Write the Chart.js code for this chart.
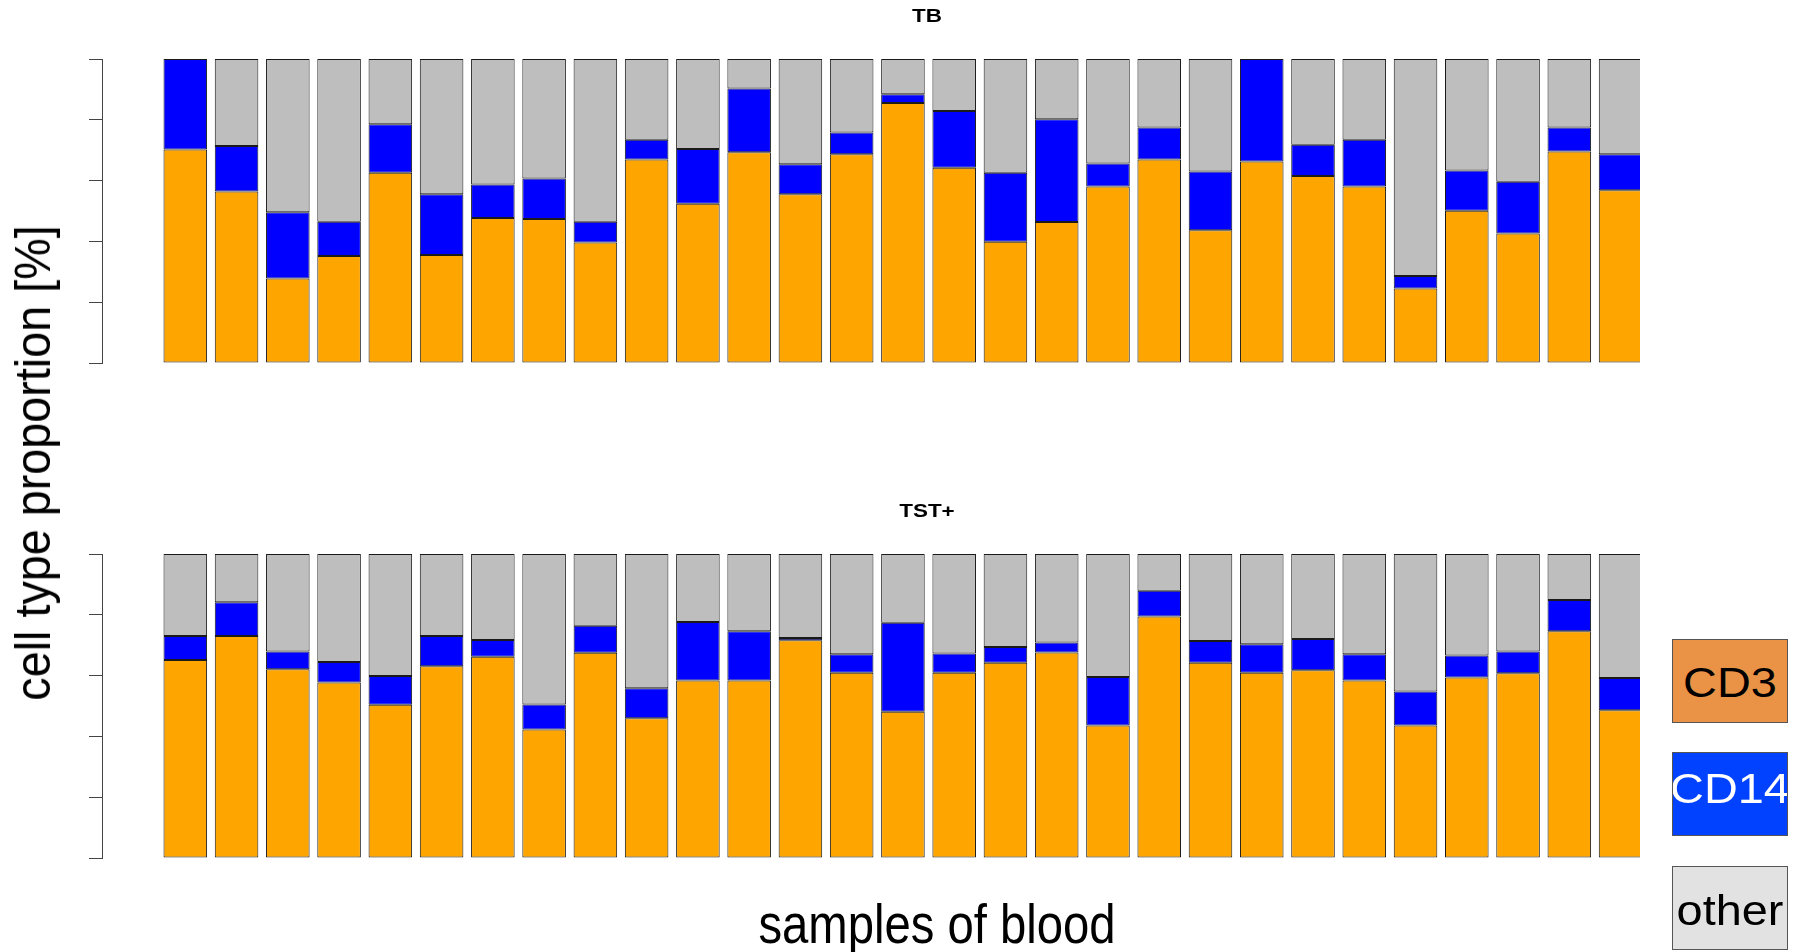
<!DOCTYPE html>
<html>

<head>
    <meta charset='utf-8'>
    <title>cell type proportion</title>
    <script src="https://cdn.jsdelivr.net/npm/chart.js"></script>
    <style>
        body { margin: 0; background: #fff; font-family: "Liberation Sans", Arial, sans-serif; }
        #page { position: relative; width: 1806px; height: 952px; overflow: hidden; }
        .plot { position: absolute; left: 0; top: 0; width: 1806px; height: 952px; }
        .txt { position: absolute; white-space: nowrap; line-height: 1; color: #000; }
        .title { font-weight: bold; font-size: 18.7px; transform: translateX(-50%) scaleX(1.2); }
        .box { position: absolute; left: 1672px; width: 114px; height: 82px; border: 1px solid #555; overflow: hidden; }
        .box span { position: absolute; left: 57px; font-size: 43px; line-height: 1; white-space: nowrap; transform: translateX(-50%) scaleX(1.09); }
    </style>
</head>

<body>
    <div id="page">
        <div class="plot"><canvas id="canvasTB"></canvas></div>
        <div class="plot"><canvas id="canvasTST"></canvas></div>

        <div class="txt title" style="left:926.5px; top:6.9px">TB</div>
        <div class="txt title" style="left:926.5px; top:501.9px">TST+</div>

        <div class="txt" style="left:33px; top:462.5px; font-size:50px; transform: translate(-50%,-50%) rotate(-90deg) scaleX(0.935)">cell type proportion [%]</div>
        <div class="txt" style="left:936.5px; top:896.7px; font-size:55px; transform: translateX(-50%) scaleX(0.859)">samples of blood</div>

        <div class="box" style="top:639px; background:#EA9245"><span style="top:21px; color:#000">CD3</span></div>
        <div class="box" style="top:752px; background:#0042FF"><span style="top:14px; color:#fff">CD14</span></div>
        <div class="box" style="top:866px; background:#E2E2E2"><span style="top:22px; color:#000">other</span></div>
    </div>
</body>

<script>
    // sample numbers (x positions of the bars)
    var samples = [1, 2, 3, 4, 5, 6, 7, 8, 9, 10, 11, 12, 13, 14, 15, 16, 17, 18, 19, 20, 21, 22, 23, 24, 25, 26, 27, 28, 29];
    var yTicks = [0, 20, 40, 60, 80, 100];

    // TB panel, % of each cell type
    var tbCD3 = [70.2, 56.4, 27.8, 35.2, 62.6, 35.5, 47.7, 47.4, 39.6, 66.9, 52.4, 69.3, 55.5, 68.7, 85.5, 64.2, 39.9, 46.4, 58.1, 66.9, 43.7, 66.3, 61.5, 58.1, 24.5, 50.1, 42.6, 69.6, 56.8];
    var tbCD14 = [29.8, 15.0, 21.8, 11.3, 15.9, 20.0, 11.0, 13.3, 6.9, 6.5, 18.0, 21.0, 9.9, 7.1, 2.9, 18.7, 22.7, 33.8, 7.5, 10.6, 19.3, 33.7, 10.3, 15.3, 4.1, 13.2, 17.0, 7.9, 11.9];
    var tbOther = [0.0, 28.6, 50.4, 53.5, 21.5, 44.5, 41.3, 39.3, 53.5, 26.6, 29.6, 9.7, 34.6, 24.2, 11.6, 17.1, 37.4, 19.8, 34.4, 22.5, 37.0, 0.0, 28.2, 26.6, 71.4, 36.7, 40.4, 22.5, 31.3];

    // TST+ panel
    var tstCD3 = [65.1, 73.0, 62.1, 57.7, 50.4, 63.1, 66.2, 42.3, 67.5, 46.0, 58.4, 58.4, 71.6, 60.9, 48.1, 60.9, 64.2, 67.6, 43.6, 79.4, 64.2, 60.9, 61.8, 58.4, 43.6, 59.4, 60.8, 74.6, 48.6];
    var tstCD14 = [7.9, 11.1, 5.8, 6.8, 9.5, 9.9, 5.5, 8.2, 8.9, 9.8, 19.2, 16.2, 0.8, 6.1, 29.3, 6.4, 5.2, 3.3, 15.9, 8.5, 7.2, 9.4, 10.2, 8.6, 11.2, 7.2, 7.1, 10.3, 10.6];
    var tstOther = [27.0, 15.9, 32.1, 35.5, 40.1, 27.0, 28.3, 49.5, 23.6, 44.2, 22.4, 25.4, 27.6, 33.0, 22.6, 32.7, 30.6, 29.1, 40.5, 12.1, 28.6, 29.7, 28.0, 33.0, 45.2, 33.4, 32.1, 15.1, 40.8];

    var colores = { cd3: '#FFA500', cd14: '#0000FF', other: '#BEBEBE' };

    function serie(label, data, color) {
        return {
            label: label,
            data: data,
            backgroundColor: color,
            borderColor: '#1a1a1a',
            borderWidth: 1,
            borderSkipped: false,
            barPercentage: 0.85,
            categoryPercentage: 1,
            clip: { left: 5, top: 5, right: 0, bottom: 5 }
        };
    }

    function CrearPanel(id, cd3, cd14, other, top, bottom) {
        var ctx = document.getElementById(id).getContext('2d');
        return new Chart(ctx, {
            type: 'bar',
            data: {
                labels: samples,
                datasets: [
                    serie('CD3', cd3, colores.cd3),
                    serie('CD14', cd14, colores.cd14),
                    serie('other', other, colores.other)
                ]
            },
            options: {
                responsive: true,
                maintainAspectRatio: false,
                animation: false,
                events: [],
                layout: { padding: { left: 89, right: 166, top: top, bottom: bottom } },
                plugins: { legend: { display: false }, title: { display: false }, tooltip: { enabled: false } },
                scales: {
                    x: {
                        type: 'linear',
                        display: false,
                        stacked: true,
                        offset: false,
                        min: -0.625,
                        max: 29.379
                    },
                    y: {
                        stacked: true,
                        min: yTicks[0],
                        max: yTicks[yTicks.length - 1],
                        afterBuildTicks: function (axis) {
                            axis.ticks = yTicks.map(function (v) { return { value: v }; });
                        },
                        ticks: { display: false },
                        grid: { drawOnChartArea: false, drawTicks: true, tickLength: 13, color: '#444', lineWidth: 1 },
                        border: { display: true, color: '#444', width: 1 }
                    }
                }
            }
        });
    }

    CrearPanel('canvasTB', tbCD3, tbCD14, tbOther, 59, 589);
    CrearPanel('canvasTST', tstCD3, tstCD14, tstOther, 554, 94);
</script>

</html>
